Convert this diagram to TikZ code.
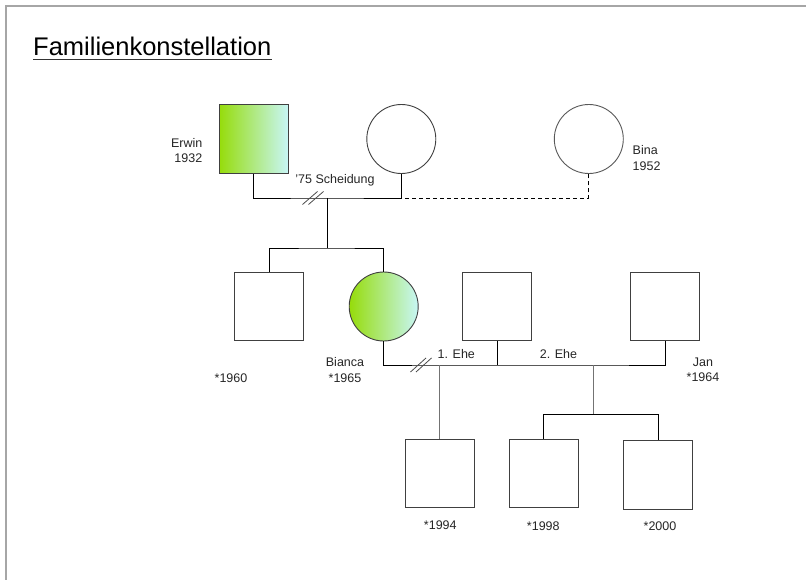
\documentclass[tikz,border=0pt]{standalone}
\usepackage{fontspec}
\setmainfont{Liberation Sans}
\begin{document}
\begin{tikzpicture}[x=1pt,y=-1pt,
  shapeline/.style={draw=black!75, line width=0.9pt},
  male/.style={shapeline, rectangle, minimum width=69pt, minimum height=68.5pt, inner sep=0pt},
  female/.style={shapeline, circle, minimum size=69pt, inner sep=0pt},
  marked/.style={left color={rgb,255:red,150;green,220;blue,10}, right color={rgb,255:red,200;green,246;blue,246}, shading angle=90},
  lbl/.style={font=\fontsize{12.5}{15.5}\selectfont, text=black!85, inner sep=0pt},
  conn/.style={draw=black, line width=0.8pt},
  kidconn/.style={draw=black!55, line width=0.9pt},
  slash/.style={draw=black!70, line width=0.8pt}
]
\useasboundingbox (0,0) rectangle (806,580);
\fill[white] (0,0) rectangle (806,580);
\draw[black!35, line width=2pt] (5.5,580) -- (5.5,6.5) -- (806,6.5);

% title
\node[anchor=base west, inner sep=0pt, font=\fontsize{25.5}{30}\selectfont] (title) at (33,56) {Familienkonstellation};
\draw[black!80, line width=1.3pt] ([yshift=-3.5pt]title.base west) -- ([yshift=-3.5pt]title.base east);

% generation 1
\node[male, marked] (erwin) at (253.5,139) {};
\node[female] (wife) at (401.3,139) {};
\node[female, draw=black!65] (bina) at (588.8,139) {};

% generation 2
\node[male] (son) at (269,306.5) {};
\node[female, marked] (bianca) at (383.7,306.5) {};
\node[male] (husb) at (497.2,306.5) {};
\node[male] (jan) at (665.3,306.5) {};

% generation 3
\node[male] (kidA) at (439.5,473.5) {};
\node[male] (kidB) at (543.7,473.5) {};
\node[male] (kidC) at (658.3,474.8) {};

% coordinates
\coordinate (m1) at (327,198);
\coordinate (wj) at (401.3,198);
\coordinate (sib1) at (327,248);
\coordinate (e1) at (439.5,365);
\coordinate (e2) at (593.3,365);
\coordinate (sib2) at (593.3,414.3);

% connectors gen 1
\draw[conn] (erwin.south) |- (m1) -| (wife.south);
\draw[conn, dash pattern=on 4pt off 3pt] ([xshift=4pt]wj) -| (bina.south);
\draw[conn] (m1) -- (sib1);
\draw[conn] (son.north) |- (sib1) -| (bianca.north);
% divorce marks
\draw[slash] (302.5,204.5) -- (317.5,191.5);
\draw[slash] (308.5,204.5) -- (323.5,191.5);

% connectors gen 2
\draw[conn] (bianca.south) |- (e1) -- (e2) -| (jan.south);
\draw[conn] (husb.south) -- (husb.south |- e1);
\draw[slash] (410.5,372) -- (426,358);
\draw[slash] (416,372) -- (431.5,358);

% connectors gen 3
\draw[kidconn] (e1) -- (kidA.north);
\draw[kidconn] (e2) -- (sib2);
\draw[conn] (kidB.north) |- (sib2) -| (kidC.north);

% labels
\node[lbl, anchor=east, align=right] (lErwin) at (202.5,150.5) {Erwin\\1932};
\node[lbl, anchor=west, align=left] (lBina) at (632.5,158) {Bina\\1952};
\node[lbl] (lScheid) at (335,180) {'75 Scheidung};
\node[lbl] (l1960) at (231,377.7) {*1960};
\node[lbl, align=center] (lBianca) at (345,370) {Bianca\\*1965};
\node[lbl] (lEhe1) at (456.3,354.3) {1. Ehe};
\node[lbl] (lEhe2) at (558.5,354.3) {2. Ehe};
\node[lbl, align=center] (lJan) at (703,370) {Jan\\*1964};
\node[lbl] (l1994) at (440.3,525) {*1994};
\node[lbl] (l1998) at (543.3,526) {*1998};
\node[lbl] (l2000) at (660,526) {*2000};
\end{tikzpicture}
\end{document}
